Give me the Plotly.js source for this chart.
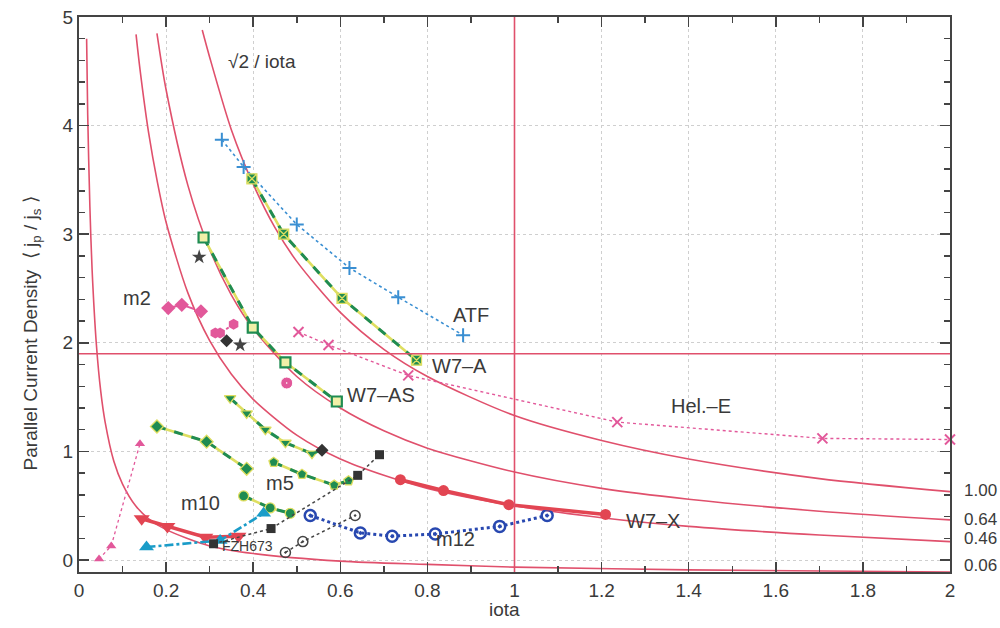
<!DOCTYPE html>
<html><head><meta charset="utf-8">
<script src="https://cdn.plot.ly/plotly-3.0.1.min.js"></script>
<style>html,body{margin:0;padding:0;background:#fff}</style>
</head><body><div id="chart" style="width:1000px;height:628px"></div>
<script>
// Reference curves (c * sqrt2 / iota)
const curveA_x = [0.283,0.3,0.35,0.4,0.45,0.5,0.6,0.7,0.8,1.0,1.2,1.4,1.7,2.0];
const curveA_y = [4.88,4.63,3.96,3.46,3.06,2.75,2.28,1.94,1.69,1.33,1.10,0.93,0.75,0.63];
const curveB_x = [0.179,0.2,0.25,0.3,0.35,0.4,0.5,0.6,0.7,0.8,1.0,1.2,1.4,1.7,2.0];
const curveB_y = [4.85,4.33,3.45,2.86,2.44,2.13,1.69,1.40,1.19,1.03,0.81,0.66,0.56,0.45,0.37];
const curveC_x = [0.131,0.14,0.16,0.18,0.2,0.25,0.3,0.35,0.4,0.5,0.6,0.7,0.8,1.0,1.2,1.4,1.7,2.0];
const curveC_y = [4.84,4.52,3.93,3.48,3.11,2.46,2.02,1.71,1.48,1.15,0.93,0.78,0.66,0.50,0.39,0.31,0.23,0.17];
const curveD_x = [0.0175,0.02,0.025,0.03,0.04,0.05,0.06,0.08,0.1,0.13,0.16,0.2,0.3,0.4,0.6,0.8,1.0,1.4,2.0];
const curveD_y = [4.80,4.10,3.25,2.68,1.98,1.55,1.27,0.91,0.70,0.50,0.38,0.28,0.13,0.06,-0.01,-0.04,-0.065,-0.09,-0.11];
const curveLabels = ['1.00','0.64','0.46','0.06'];
const curveLabelY = [0.645,0.378,0.20,-0.05];

const refLineY = 1.9;   // horizontal reference
const refLineX = 1.0;   // vertical reference

// Configurations
const atf_x = [0.328,0.378,0.500,0.621,0.733,0.882];
const atf_y = [3.87,3.62,3.09,2.69,2.42,2.07];
const w7a_x = [0.397,0.470,0.604,0.775];
const w7a_y = [3.51,3.00,2.41,1.84];
const w7as_x = [0.286,0.399,0.474,0.592];
const w7as_y = [2.97,2.14,1.82,1.46];
const m2a_x = [0.205,0.236,0.280];
const m2a_y = [2.32,2.35,2.29];
const m2b_x = [0.313,0.324,0.355];
const m2b_y = [2.09,2.09,2.17];
const pinkPt_x = [0.477];
const pinkPt_y = [1.63];
const blackDia_x = [0.339];
const blackDia_y = [2.02];
const blackStar_x = [0.276,0.370];
const blackStar_y = [2.79,1.98];
const helE_x = [0.504,0.573,0.756,1.236,1.707,2.0];
const helE_y = [2.10,1.98,1.70,1.27,1.12,1.11];
const triDn_x = [0.347,0.385,0.428,0.474,0.535];
const triDn_y = [1.49,1.35,1.20,1.08,0.98];
const triEnd_x = [0.535,0.558];
const triEnd_y = [0.98,1.01];
const m5a_x = [0.179,0.293,0.385];
const m5a_y = [1.23,1.09,0.84];
const m5b_x = [0.447,0.512,0.586,0.619];
const m5b_y = [0.90,0.79,0.69,0.73];
const m10c_x = [0.378,0.439,0.485];
const m10c_y = [0.59,0.48,0.43];
const redTri_x = [0.144,0.203,0.290,0.366];
const redTri_y = [0.38,0.31,0.21,0.22];
const cyan_x = [0.155,0.324,0.424];
const cyan_y = [0.12,0.18,0.43];
const fzh_x = [0.309,0.441,0.640,0.690];
const fzh_y = [0.15,0.29,0.78,0.97];
const openC_x = [0.474,0.514,0.634];
const openC_y = [0.07,0.17,0.41];
const m12_x = [0.531,0.646,0.719,0.818,0.966,1.075];
const m12_y = [0.41,0.25,0.22,0.24,0.31,0.41];
const w7x_x = [0.738,0.837,0.987,1.209];
const w7x_y = [0.74,0.64,0.51,0.42];
const pinkTri_x = [0.046,0.074,0.140];
const pinkTri_y = [0.01,0.13,1.07];

const RED = '#e0506c', GREEN = '#1f8c52', YEL = '#dede60', PINK = '#e2589a';
const traces = [];
function curve(x, y) {
  traces.push({x, y, mode:'lines', line:{color:RED, width:1.6, shape:'spline', smoothing:0.8}, hoverinfo:'skip'});
}
curve(curveA_x, curveA_y); curve(curveB_x, curveB_y); curve(curveC_x, curveC_y); curve(curveD_x, curveD_y);

function greenSeries(x, y, symbol, fill) {
  traces.push({x, y, mode:'lines', line:{color:YEL, width:2.6}, hoverinfo:'skip'});
  traces.push({x, y, mode:'lines+markers', line:{color:GREEN, width:3, dash:'dash'},
    marker:{symbol, size:10, color:fill || GREEN, line:{color: fill ? GREEN : YEL, width: fill ? 2.2 : 1.3}}});
}
traces.push({x:atf_x, y:atf_y, mode:'lines+markers', line:{color:'#3a8fd2', width:1.6, dash:'dot'},
  marker:{symbol:'cross-thin-open', size:10, line:{color:'#3a8fd2', width:2}}});
traces.push({x:helE_x, y:helE_y, mode:'lines+markers', line:{color:PINK, width:1.4, dash:'dot'},
  marker:{symbol:'x-thin-open', size:10, line:{color:PINK, width:2}}, cliponaxis:false});
greenSeries(w7a_x, w7a_y, 'square-x');
greenSeries(w7as_x, w7as_y, 'square', '#f2f0a8');
greenSeries(triDn_x, triDn_y, 'triangle-down');
greenSeries(m5a_x, m5a_y, 'diamond');
greenSeries(m5b_x, m5b_y, 'pentagon');
greenSeries(m10c_x, m10c_y, 'circle');
traces.push({x:triEnd_x, y:triEnd_y, mode:'lines', line:{color:GREEN, width:2.2, dash:'dash'}});
traces.push({x:m2a_x, y:m2a_y, mode:'lines+markers', line:{color:PINK, width:2, dash:'dash'},
  marker:{symbol:'diamond', size:11, color:PINK}});
traces.push({x:m2b_x, y:m2b_y, mode:'lines+markers', line:{color:PINK, width:2, dash:'dashdot'},
  marker:{symbol:'hexagon', size:11, color:PINK}});
traces.push({x:pinkPt_x, y:pinkPt_y, mode:'markers', marker:{symbol:'circle-dot', size:12, color:PINK, line:{color:'#fff', width:1}}});
traces.push({x:blackDia_x, y:blackDia_y, mode:'markers', marker:{symbol:'diamond', size:10, color:'#333'}});
traces.push({x:triEnd_x.slice(1), y:triEnd_y.slice(1), mode:'markers', marker:{symbol:'diamond', size:10, color:'#333'}});
traces.push({x:blackStar_x, y:blackStar_y, mode:'markers', marker:{symbol:'star', size:11, color:'#444'}});
traces.push({x:pinkTri_x, y:pinkTri_y, mode:'lines+markers', line:{color:PINK, width:1.3, dash:'dot'},
  marker:{symbol:'triangle-up', size:9, color:PINK}});
traces.push({x:redTri_x, y:redTri_y, mode:'lines+markers', line:{color:'#e24552', width:3.5},
  marker:{symbol:'triangle-down', size:14, color:'#e24552'}});
traces.push({x:cyan_x, y:cyan_y, mode:'lines+markers', line:{color:'#1a9cc8', width:2.6, dash:'dashdot'},
  marker:{symbol:'triangle-up', size:13, color:'#1a9cc8'}});
traces.push({x:fzh_x, y:fzh_y, mode:'lines+markers', line:{color:'#444', width:1.5, dash:'dot'},
  marker:{symbol:'square', size:9, color:'#333'}});
traces.push({x:openC_x, y:openC_y, mode:'lines+markers', line:{color:'#444', width:1.5, dash:'dot'},
  marker:{symbol:'circle-open-dot', size:10, color:'#444', line:{width:1.5}}});
traces.push({x:m12_x, y:m12_y, mode:'lines+markers', line:{color:'#2848b0', width:3, dash:'dot'},
  marker:{symbol:'circle-open-dot', size:11, color:'#2848b0', line:{width:2.5}}});
traces.push({x:w7x_x, y:w7x_y, mode:'lines+markers', line:{color:'#e24552', width:3.5},
  marker:{symbol:'circle', size:11, color:'#e24552'}});

const F = 'Liberation Sans, Arial, sans-serif';
const TC = '#3a3a3a';
function lab(text, x, y, size) {
  return {text, x, y, xref:'x', yref:'y', showarrow:false, font:{family:F, size:size||20, color:TC}};
}
const annotations = [
  lab('√2 / iota', 0.42, 4.59, 19),
  lab('m2', 0.133, 2.41),
  lab('ATF', 0.899, 2.26),
  lab('W7–A', 0.874, 1.79),
  lab('W7–AS', 0.694, 1.52),
  lab('Hel.–E', 1.428, 1.42),
  lab('m5', 0.462, 0.71),
  lab('m10', 0.28, 0.525),
  lab('m12', 0.864, 0.19),
  lab('W7–X', 1.317, 0.36),
  lab('FZH673', 0.386, 0.13, 14),
  {text:'iota', xref:'paper', yref:'paper', x:0.489, y:-0.0667, yanchor:'middle', showarrow:false, font:{family:F, size:19, color:TC}},
  {text:'Parallel Current Density  ⟨ j<sub>p</sub> / j<sub>s</sub> ⟩', xref:'paper', yref:'paper', x:-0.07, y:0.43,
   textangle:-90, showarrow:false, font:{family:F, size:19, color:TC}}
];
curveLabels.forEach((t, i) => annotations.push({text:t, xref:'paper', yref:'y', x:1.014, y:curveLabelY[i],
  xanchor:'left', showarrow:false, font:{family:F, size:17, color:TC}}));

const axisCommon = {showline:true, linecolor:'#444', linewidth:2, mirror:'allticks', ticks:'inside',
  tickcolor:'#444', tickwidth:1.5, ticklen:10, showgrid:true, gridcolor:'#cfcfcf', griddash:'dot', gridwidth:1,
  zeroline:false, tickfont:{family:F, size:19, color:TC}};
const layout = {
  width:1000, height:628, margin:{l:79, r:50, t:17, b:56},
  paper_bgcolor:'#fff', plot_bgcolor:'#fff', showlegend:false,
  xaxis:Object.assign({}, axisCommon, {range:[0,2], tick0:0, dtick:0.2, tickformat:'.1~f', ticklabelstandoff:0,
    minor:{dtick:0.1, ticks:'inside', ticklen:6, tickcolor:'#444', showgrid:false}}),
  yaxis:Object.assign({}, axisCommon, {range:[-0.11,5], tick0:0, dtick:1,
    minor:{dtick:0.2, ticks:'inside', ticklen:6, tickcolor:'#444', showgrid:false}}),
  shapes:[
    {type:'line', xref:'paper', yref:'y', x0:0, x1:1, y0:refLineY, y1:refLineY, line:{color:RED, width:1.6}},
    {type:'line', xref:'x', yref:'paper', x0:refLineX, x1:refLineX, y0:0, y1:1, line:{color:RED, width:1.6}}
  ],
  annotations
};
Plotly.newPlot('chart', traces, layout, {displayModeBar:false, staticPlot:true});
</script></body></html>
